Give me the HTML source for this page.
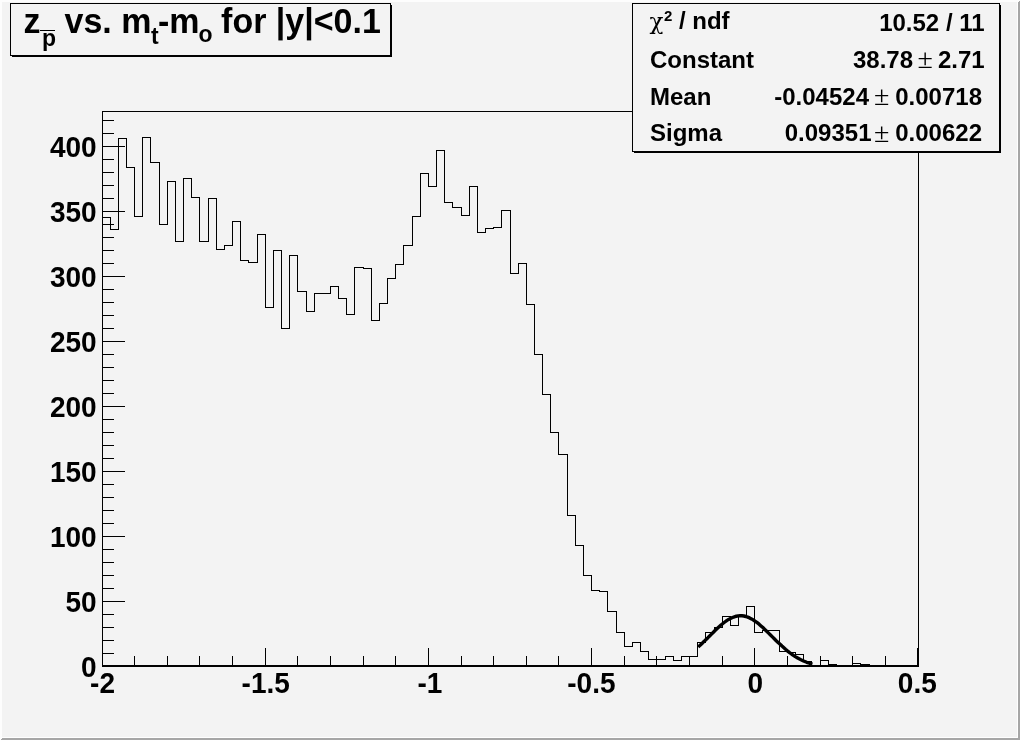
<!DOCTYPE html>
<html lang="en"><head><meta charset="utf-8">
<title>z_pbar vs. m_t-m_o for |y|&lt;0.1</title>
<style>
html,body{margin:0;padding:0;background:#f3f3f3;}
body{width:1020px;height:740px;overflow:hidden;position:relative;}
svg{position:absolute;left:0;top:0;display:block;}
text{font-family:"Liberation Sans",Arial,Helvetica,sans-serif;font-weight:bold;fill:#000;}
.sym{font-family:"Liberation Serif","DejaVu Serif",serif;font-weight:normal;}
.chi{font-family:"DejaVu Serif","Liberation Serif",serif;font-weight:normal;}
.ln{stroke:#000;stroke-width:1;fill:none;shape-rendering:crispEdges;}
</style></head><body>
<svg width="1020" height="740" viewBox="0 0 1020 740">
<rect x="0" y="0" width="1020" height="740" fill="#f3f3f3"/>
<g shape-rendering="crispEdges">
<rect x="0" y="0" width="1020" height="2" fill="#fdfdfd"/>
<rect x="0" y="0" width="2" height="740" fill="#fdfdfd"/>
<rect x="2" y="737" width="1016" height="1" fill="#fefefe"/>
<rect x="1017" y="2" width="1" height="736" fill="#fefefe"/>
<polygon points="1020,0 1020,0 1020,740 0,740 0,740 2,738 1018,738 1018,2" fill="#a6a6a6"/>
</g>
<g class="ln">
<path d="M102.5 111.5 H918.5 V666.0"/>
<path d="M102.5 111.0 V667.0"/>
<rect x="102" y="665" width="817" height="2" fill="#000" stroke="none"/>
<path d="M103.0 653.5h11M103.0 640.5h11M103.0 627.5h11M103.0 614.5h11M103.0 601.5h22M103.0 588.5h11M103.0 575.5h11M103.0 562.5h11M103.0 549.5h11M103.0 536.5h22M103.0 523.5h11M103.0 510.5h11M103.0 497.5h11M103.0 484.5h11M103.0 471.5h22M103.0 458.5h11M103.0 445.5h11M103.0 432.5h11M103.0 419.5h11M103.0 406.5h22M103.0 393.5h11M103.0 380.5h11M103.0 367.5h11M103.0 354.5h11M103.0 341.5h22M103.0 328.5h11M103.0 315.5h11M103.0 302.5h11M103.0 289.5h11M103.0 276.5h22M103.0 263.5h11M103.0 250.5h11M103.0 237.5h11M103.0 224.5h11M103.0 211.5h22M103.0 198.5h11M103.0 185.5h11M103.0 172.5h11M103.0 159.5h11M103.0 146.5h22M103.0 133.5h11M103.0 120.5h11"/>
<path d="M134.5 665v-9M167.5 665v-9M199.5 665v-9M232.5 665v-9M265.5 665v-17M297.5 665v-9M330.5 665v-9M363.5 665v-9M395.5 665v-9M428.5 665v-17M461.5 665v-9M493.5 665v-9M526.5 665v-9M558.5 665v-9M591.5 665v-17M624.5 665v-9M656.5 665v-9M689.5 665v-9M722.5 665v-9M754.5 665v-17M787.5 665v-9M820.5 665v-9M852.5 665v-9M885.5 665v-9M917.5 665v-17"/>
<path d="M102.5 217.5H110.5V229.5H118.5V138.5H126.5V167.5H134.5V216.5H142.5V137.5H150.5V162.5H159.5V224.5H167.5V181.5H175.5V241.5H183.5V178.5H191.5V197.5H199.5V241.5H208.5V198.5H216.5V249.5H224.5V245.5H232.5V221.5H240.5V260.5H248.5V262.5H257.5V234.5H265.5V307.5H273.5V250.5H281.5V328.5H289.5V255.5H297.5V291.5H306.5V311.5H314.5V293.5H322.5V293.5H330.5V286.5H338.5V298.5H346.5V314.5H354.5V267.5H363.5V268.5H371.5V320.5H379.5V303.5H387.5V278.5H395.5V264.5H403.5V245.5H412.5V216.5H420.5V173.5H428.5V186.5H436.5V150.5H444.5V202.5H452.5V207.5H461.5V215.5H469.5V186.5H477.5V232.5H485.5V228.5H493.5V227.5H501.5V210.5H510.5V273.5H518.5V263.5H526.5V304.5H534.5V354.5H542.5V394.5H550.5V432.5H558.5V454.5H567.5V515.5H575.5V545.5H583.5V575.5H591.5V590.5H599.5V591.5H607.5V611.5H616.5V632.5H624.5V646.5H632.5V642.5H640.5V651.5H648.5V659.5H656.5V659.5H665.5V656.5H673.5V660.5H681.5V656.5H689.5V656.5H697.5V642.5H705.5V632.5H714.5V627.5H722.5V616.5H730.5V625.5H738.5V615.5H746.5V606.5H754.5V632.5H762.5V630.5H771.5V630.5H779.5V651.5H787.5V652.5H795.5V654.5H803.5V661.5H811.5V665.5H820.5V660.5H828.5V664.5H836.5V665.5H844.5V665.5H852.5V663.5H860.5V664.5H869.5V665.5H877.5V665.5H885.5V665.5H893.5V665.5H901.5V665.5H909.5V665.5H918.5"/>
</g>
<polyline points="698.2,646.9 700.1,645.2 702.0,643.4 703.9,641.6 705.8,639.7 707.7,637.9 709.6,636.0 711.5,634.1 713.4,632.2 715.3,630.3 717.2,628.5 719.1,626.7 721.0,625.0 722.9,623.5 724.8,622.0 726.7,620.6 728.6,619.4 730.5,618.4 732.5,617.5 734.4,616.8 736.3,616.2 738.2,615.9 740.1,615.7 742.0,615.8 743.9,616.0 745.8,616.5 747.7,617.1 749.6,617.9 751.5,618.9 753.4,620.0 755.3,621.3 757.2,622.7 759.1,624.2 761.0,625.9 762.9,627.6 764.8,629.4 766.7,631.2 768.6,633.1 770.5,635.0 772.4,636.9 774.3,638.8 776.2,640.7 778.1,642.5 780.1,644.3 782.0,646.1 783.9,647.8 785.8,649.5 787.7,651.1 789.6,652.6 791.5,654.0 793.4,655.3 795.3,656.6 797.2,657.7 799.1,658.8 801.0,659.8 802.9,660.7 804.8,661.5 806.7,662.3 808.6,663.0 810.5,663.6 812.4,664.2" fill="none" stroke="#000" stroke-width="3.4" stroke-linejoin="round"/>
<text transform="translate(96.6,676.7) scale(1,1.04)" font-size="28" text-anchor="end">0</text>
<text transform="translate(96.6,611.7) scale(1,1.04)" font-size="28" text-anchor="end">50</text>
<text transform="translate(96.6,546.7) scale(1,1.04)" font-size="28" text-anchor="end">100</text>
<text transform="translate(96.6,481.7) scale(1,1.04)" font-size="28" text-anchor="end">150</text>
<text transform="translate(96.6,416.7) scale(1,1.04)" font-size="28" text-anchor="end">200</text>
<text transform="translate(96.6,351.7) scale(1,1.04)" font-size="28" text-anchor="end">250</text>
<text transform="translate(96.6,286.7) scale(1,1.04)" font-size="28" text-anchor="end">300</text>
<text transform="translate(96.6,221.7) scale(1,1.04)" font-size="28" text-anchor="end">350</text>
<text transform="translate(96.6,156.7) scale(1,1.04)" font-size="28" text-anchor="end">400</text>
<text transform="translate(102.5,693) scale(1,1.04)" font-size="28" text-anchor="middle">-2</text>
<text transform="translate(265.7,693) scale(1,1.04)" font-size="28" text-anchor="middle">-1.5</text>
<text transform="translate(429.9,693) scale(1,1.04)" font-size="28" text-anchor="middle">-1</text>
<text transform="translate(591.4,693) scale(1,1.04)" font-size="28" text-anchor="middle">-0.5</text>
<text transform="translate(755.3,693) scale(1,1.04)" font-size="28" text-anchor="middle">0</text>
<text transform="translate(917.3,693) scale(1,1.04)" font-size="28" text-anchor="middle">0.5</text>
<g shape-rendering="crispEdges">
<rect x="12" y="5" width="380" height="52" fill="#000"/>
<rect x="10.5" y="3.5" width="380" height="52" fill="#f3f3f3" stroke="#000" stroke-width="1"/>
</g>
<text transform="translate(23.5,33.4) scale(1,1.04)" font-size="34">z<tspan font-size="23" dy="12" dx="1.5">p</tspan><tspan dy="-12" dx="-1"> vs. m</tspan><tspan font-size="23" dy="10" dx="-0.5">t</tspan><tspan dy="-10" dx="-0.5">-m</tspan><tspan font-size="23" dy="8" dx="-1">o</tspan><tspan dy="-8" dx="-1"> for |y|&lt;0.1</tspan></text>
<rect x="40" y="30" width="15" height="1" fill="#000" shape-rendering="crispEdges"/>
<g shape-rendering="crispEdges">
<rect x="634" y="5" width="367" height="148" fill="#000"/>
<rect x="632.5" y="3.5" width="367" height="148" fill="#f3f3f3" stroke="#000" stroke-width="1"/>
</g>
<text x="649.5" y="28.7" font-size="24"><tspan class="chi" font-size="23">χ</tspan><tspan font-size="15" dy="-7.5" dx="0.5">2</tspan><tspan dy="7.5"> / ndf</tspan></text>
<text x="984.6" y="31.1" font-size="24" text-anchor="end">10.52 / 11</text>
<text x="650" y="67.6" font-size="24">Constant</text>
<text x="913.0" y="67.6" font-size="24" text-anchor="end">38.78</text>
<text x="917.5" y="67.9" font-size="28" class="sym">±</text>
<text x="984.6" y="67.6" font-size="24" text-anchor="end">2.71</text>
<text x="650" y="104.5" font-size="24">Mean</text>
<text x="869.0" y="104.5" font-size="24" text-anchor="end">-0.04524</text>
<text x="874.0" y="104.8" font-size="28" class="sym">±</text>
<text x="982.0" y="104.5" font-size="24" text-anchor="end">0.00718</text>
<text x="650" y="141.2" font-size="24">Sigma</text>
<text x="871.5" y="141.2" font-size="24" text-anchor="end">0.09351</text>
<text x="874.0" y="141.5" font-size="28" class="sym">±</text>
<text x="982.0" y="141.2" font-size="24" text-anchor="end">0.00622</text>
</svg>
</body></html>
